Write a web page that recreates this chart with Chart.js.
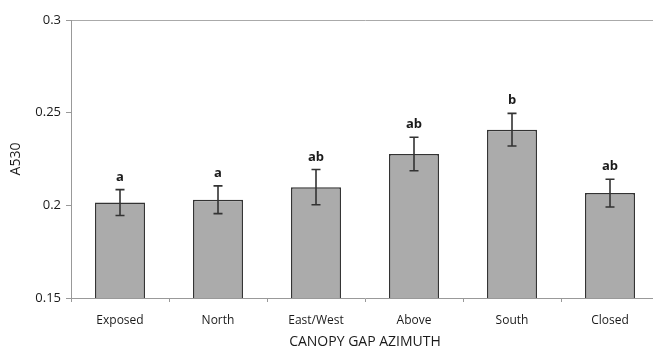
<!DOCTYPE html>
<html>
<head>
<meta charset="utf-8">
<script src="https://cdn.jsdelivr.net/npm/chart.js@4/dist/chart.umd.min.js"></script>
<style>
html,body{margin:0;padding:0;background:#fff;overflow:hidden;}
#wrap{width:665px;height:354px;position:relative;}
</style>
</head>
<body>
<div id="wrap"><canvas id="c" width="665" height="354"></canvas></div>
<script>
const categories = ["Exposed", "North", "East/West", "Above", "South", "Closed"];
const meanValues = [0.2015, 0.203, 0.2098, 0.2277, 0.2408, 0.2066];
const errorValues = [0.007, 0.0075, 0.0095, 0.009, 0.0088, 0.0075];
const groupLetters = ["a", "a", "ab", "ab", "b", "ab"];
const yTickValues = [0.15, 0.2, 0.25, 0.3];

const textColor = '#1a1a1a';
const FONT = '"Open Sans", "DejaVu Sans", sans-serif';

const errorBarPlugin = {
  id: 'errorBars',
  afterDatasetsDraw(chart) {
    const ctx = chart.ctx;
    const meta = chart.getDatasetMeta(0);
    const y = chart.scales.y;
    ctx.save();
    meta.data.forEach((bar, i) => {
      const x = bar.x;
      const top = y.getPixelForValue(meanValues[i] + errorValues[i]);
      const bot = y.getPixelForValue(meanValues[i] - errorValues[i]);
      ctx.strokeStyle = '#333';
      ctx.lineWidth = 1.6;
      ctx.beginPath();
      ctx.moveTo(x, top); ctx.lineTo(x, bot);
      ctx.moveTo(x - 4.5, top); ctx.lineTo(x + 4.5, top);
      ctx.moveTo(x - 4.5, bot); ctx.lineTo(x + 4.5, bot);
      ctx.stroke();
      ctx.fillStyle = textColor;
      ctx.font = 'bold 13px ' + FONT;
      ctx.textAlign = 'center';
      ctx.textBaseline = 'alphabetic';
      ctx.fillText(groupLetters[i], x, top - 9);
    });
    ctx.restore();
  }
};

new Chart(document.getElementById('c'), {
  type: 'bar',
  data: {
    labels: categories,
    datasets: [{
      data: meanValues,
      backgroundColor: '#ababab',
      borderColor: '#333',
      borderWidth: 1.5,
      barPercentage: 0.51,
      categoryPercentage: 1.0,
      borderSkipped: 'bottom'
    }]
  },
  options: {
    responsive: false,
    animation: false,
    layout: { padding: { top: 20, right: 6, left: 0, bottom: 0 } },
    plugins: { legend: { display: false }, tooltip: { enabled: false } },
    scales: {
      x: {
        offset: true,
        grid: { offset: true, drawOnChartArea: false, color: '#999', tickLength: 4 },
        border: { color: '#999', width: 1 },
        ticks: { color: textColor, font: { family: FONT, size: 12 }, padding: 11, maxRotation: 0 },
        title: { display: true, text: 'CANOPY GAP AZIMUTH', color: textColor, font: { family: FONT, size: 14 }, padding: { top: 5 } },
        afterFit(s) { s.height = 56; }
      },
      y: {
        min: 0.15, max: 0.3,
        afterBuildTicks(s) { s.ticks = yTickValues.map(v => ({ value: v })); },
        grid: {
          color: c => (c.tick && Math.abs(c.tick.value - 0.3) < 1e-9) ? '#aaa' : 'rgba(0,0,0,0)',
          tickColor: '#999', tickLength: 5, lineWidth: 1
        },
        border: { color: '#999', width: 1 },
        ticks: { color: textColor, font: { family: FONT, size: 13 }, padding: 5, callback: v => String(+v.toFixed(2)) },
        title: { display: true, text: 'A530', color: textColor, font: { family: FONT, size: 14 }, padding: { top: 8, bottom: 0 } },
        afterFit(s) { s.width = 71; }
      }
    }
  },
  plugins: [errorBarPlugin]
});
</script>
</body>
</html>
